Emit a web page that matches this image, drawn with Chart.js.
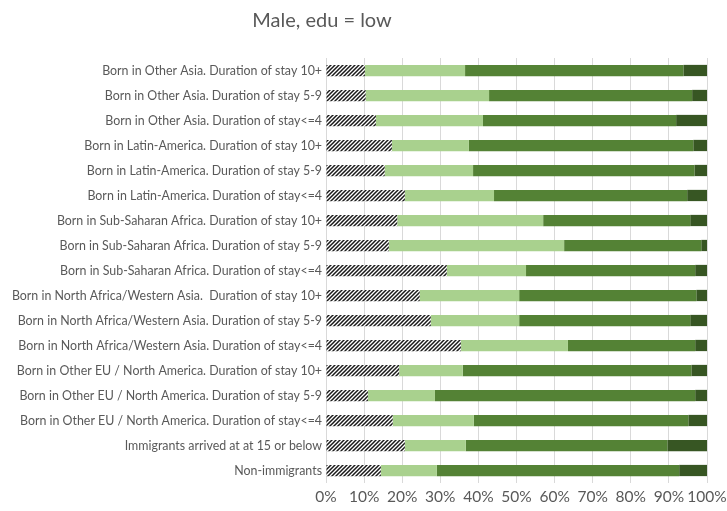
<!DOCTYPE html>
<html>
<head>
<meta charset="utf-8">
<script src="https://cdn.jsdelivr.net/npm/chart.js@4"></script>
<style>
  html, body { margin: 0; padding: 0; background: #fff; }
  #wrap { width: 727px; height: 511px; position: relative; }
</style>
</head>
<body>
<div id="wrap"><canvas id="chart" width="727" height="511"></canvas></div>
<script>
// Categories, top to bottom
const categories = [
  'Born in Other Asia. Duration of stay 10+',
  'Born in Other Asia. Duration of stay 5-9',
  'Born in Other Asia. Duration of stay<=4',
  'Born in Latin-America. Duration of stay 10+',
  'Born in Latin-America. Duration of stay 5-9',
  'Born in Latin-America. Duration of stay<=4',
  'Born in Sub-Saharan Africa. Duration of stay 10+',
  'Born in Sub-Saharan Africa. Duration of stay 5-9',
  'Born in Sub-Saharan Africa. Duration of stay<=4',
  'Born in North Africa/Western Asia.  Duration of stay 10+',
  'Born in North Africa/Western Asia. Duration of stay 5-9',
  'Born in North Africa/Western Asia. Duration of stay<=4',
  'Born in Other EU / North America. Duration of stay 10+',
  'Born in Other EU / North America. Duration of stay 5-9',
  'Born in Other EU / North America. Duration of stay<=4',
  'Immigrants arrived at at 15 or below',
  'Non-immigrants'
];

// Shares (%) per segment
const hatched = [10.2, 10.4, 13.1, 17.3, 15.4, 20.7, 18.7, 16.5, 31.7, 24.6, 27.5, 35.4, 19.2, 11.0, 17.5, 20.7, 14.4];
const lightGreen = [26.3, 32.4, 28.1, 20.2, 23.2, 23.4, 38.3, 46.0, 20.8, 26.1, 23.2, 28.1, 16.7, 17.6, 21.3, 16.0, 14.7];
const midGreen = [57.3, 53.3, 50.7, 58.9, 58.1, 50.7, 38.6, 36.0, 44.4, 46.5, 44.9, 33.4, 60.0, 68.3, 56.3, 52.9, 63.6];
const darkGreen = [6.2, 3.9, 8.1, 3.6, 3.3, 5.2, 4.4, 1.5, 3.1, 2.8, 4.4, 3.1, 4.1, 3.1, 4.9, 10.4, 7.3];

const xTicks = [0, 10, 20, 30, 40, 50, 60, 70, 80, 90, 100];

// diagonal hatch pattern for the first segment
function makeHatch() {
  const c = document.createElement('canvas');
  c.width = 4; c.height = 4;
  const g = c.getContext('2d');
  g.fillStyle = '#fff';
  g.fillRect(0, 0, 4, 4);
  g.strokeStyle = '#1a1a1a';
  g.lineWidth = 1.5;
  g.beginPath();
  g.moveTo(-1, 5); g.lineTo(5, -1);
  g.moveTo(-1, 1); g.lineTo(1, -1);
  g.moveTo(3, 5); g.lineTo(5, 3);
  g.stroke();
  return g.createPattern(c, 'repeat');
}

const titlePlugin = {
  id: 'sideTitle',
  afterDraw(chart) {
    const ctx = chart.ctx;
    ctx.save();
    ctx.font = '20px Lato';
    ctx.fillStyle = '#595959';
    ctx.textAlign = 'center';
    ctx.textBaseline = 'alphabetic';
    ctx.fillText('Male, edu = low', 322, 27);
    ctx.restore();
  }
};

const ctx = document.getElementById('chart').getContext('2d');
const bar = { barPercentage: 0.45, categoryPercentage: 1, borderWidth: 0 };

new Chart(ctx, {
  type: 'bar',
  data: {
    labels: categories,
    datasets: [
      { label: 'Segment 1', data: hatched, backgroundColor: makeHatch(), ...bar },
      { label: 'Segment 2', data: lightGreen, backgroundColor: '#a9d18e', ...bar },
      { label: 'Segment 3', data: midGreen, backgroundColor: '#548235', ...bar },
      { label: 'Segment 4', data: darkGreen, backgroundColor: '#375623', ...bar }
    ]
  },
  options: {
    indexAxis: 'y',
    responsive: false,
    animation: false,
    layout: { padding: { top: 58, right: 0, left: 0, bottom: 0 } },
    plugins: {
      legend: { display: false },
      tooltip: { enabled: false }
    },
    scales: {
      x: {
        stacked: true,
        min: 0,
        max: 100,
        afterBuildTicks: (scale) => { scale.ticks = xTicks.map(v => ({ value: v })); },
        ticks: {
          callback: (v) => v + '%',
          color: '#595959',
          font: { family: 'Lato', size: 15.5 },
          padding: 5,
          maxRotation: 0,
          autoSkip: false
        },
        grid: { color: '#d9d9d9', lineWidth: 1, drawTicks: false },
        border: { display: false },
        afterFit: (scale) => { scale.height = 28; scale.paddingRight = 20; }
      },
      y: {
        stacked: true,
        ticks: {
          color: '#595959',
          font: { family: 'Lato', size: 12.4 },
          padding: 4,
          autoSkip: false
        },
        grid: { display: false, drawTicks: false },
        border: { display: false },
        afterFit: (scale) => { scale.width = 326; }
      }
    }
  },
  plugins: [titlePlugin]
});
</script>
</body>
</html>
